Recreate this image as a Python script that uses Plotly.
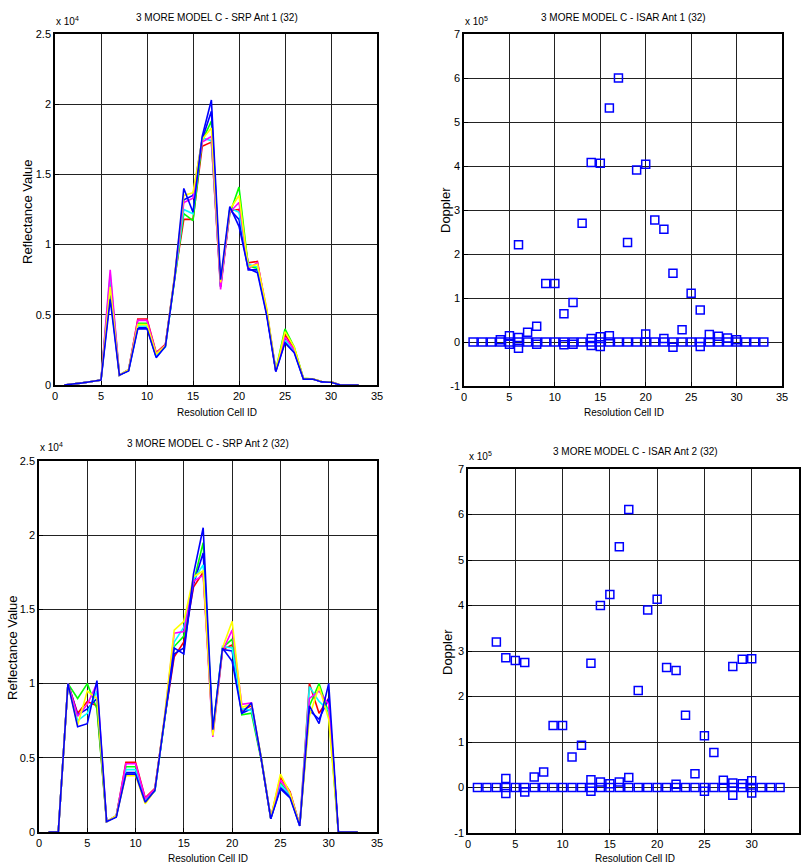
import plotly.graph_objects as go

W, H = 805, 865

cells = list(range(1, 34))

# SRP Ant 1 (raw reflectance values), several pulses
srp1_red = [0, 50, 150, 250, 350, 7600, 700, 1050, 4700, 4700, 2300, 2900, 7600, 11800, 11800, 17000, 17300, 7000, 12400, 12500, 8700, 8800, 5200, 1000, 3600, 2600, 450, 420, 230, 220, 0, 0, 0]
srp1_green = [0, 50, 150, 250, 350, 7200, 700, 1100, 4400, 4400, 2200, 2800, 7500, 12200, 11700, 17400, 18800, 7200, 12200, 14100, 8500, 8300, 5300, 1050, 4000, 2700, 480, 430, 240, 220, 0, 0, 0]
srp1_blue2 = [0, 50, 150, 250, 350, 6500, 700, 1050, 4100, 4100, 2000, 2800, 7700, 13200, 13500, 17500, 19500, 7000, 12500, 11800, 8200, 8200, 5100, 1000, 3100, 2400, 430, 420, 230, 210, 0, 0, 0]
srp1_cyan = [0, 50, 150, 250, 350, 7900, 700, 1050, 4200, 4200, 2100, 2700, 7600, 12500, 12200, 17600, 17400, 7100, 12600, 12300, 8600, 8400, 5300, 1000, 3200, 2400, 450, 420, 230, 210, 0, 0, 0]
srp1_magenta = [0, 50, 150, 250, 350, 8200, 700, 1100, 4600, 4600, 2250, 2850, 7700, 13000, 13300, 17300, 17700, 6800, 12300, 13000, 8300, 8700, 5400, 1000, 3400, 2500, 460, 430, 240, 220, 0, 0, 0]
srp1_yellow = [0, 50, 150, 250, 350, 7000, 700, 1100, 4300, 4300, 2200, 2800, 7800, 13500, 13700, 17500, 18300, 7300, 12500, 13500, 8400, 8600, 5500, 1050, 3800, 2700, 470, 440, 250, 230, 0, 0, 0]
srp1_blue = [0, 50, 150, 250, 350, 6100, 700, 1000, 4000, 4000, 1950, 2750, 7600, 14000, 12300, 17700, 20300, 7500, 12700, 11300, 8300, 8000, 5000, 950, 3000, 2300, 420, 420, 220, 200, 0, 0, 0]

# SRP Ant 2
srp2_red = [0, 0, 10000, 8000, 8800, 8500, 700, 1050, 4700, 4700, 2300, 2950, 7600, 11800, 12800, 16500, 17500, 6600, 12300, 12600, 8200, 8500, 5000, 950, 3700, 2700, 450, 10000, 8000, 9000, 0, 0, 0]
srp2_green = [0, 0, 10000, 9000, 10000, 8300, 700, 1100, 4400, 4400, 2200, 2850, 7500, 12500, 13200, 16800, 19500, 6800, 12400, 13000, 7900, 8000, 4900, 900, 3300, 2500, 430, 8500, 10000, 8000, 0, 0, 0]
srp2_blue2 = [0, 0, 10000, 7900, 8300, 9000, 700, 1050, 4000, 4000, 2000, 2800, 7600, 12000, 12400, 16700, 18800, 6700, 12300, 12200, 8000, 8300, 5000, 900, 3000, 2400, 420, 8200, 7600, 9000, 0, 0, 0]
srp2_cyan = [0, 0, 10000, 7500, 8000, 9500, 700, 1050, 4200, 4200, 2100, 2750, 7600, 12800, 13800, 17000, 18000, 6700, 12500, 12400, 8300, 8200, 5100, 950, 3200, 2500, 430, 9800, 8800, 8200, 0, 0, 0]
srp2_magenta = [0, 0, 10000, 7800, 8600, 10000, 700, 1100, 4600, 4600, 2250, 2900, 7700, 13400, 13500, 16900, 17300, 6400, 12200, 13600, 8600, 8700, 5000, 950, 3500, 2600, 440, 9000, 9500, 8600, 0, 0, 0]
srp2_yellow = [0, 0, 10000, 7200, 9500, 9000, 700, 1100, 3800, 3800, 1900, 2800, 7800, 13600, 14200, 17200, 17600, 6500, 12400, 14200, 8400, 8600, 5100, 950, 3900, 2600, 450, 7800, 9800, 7600, 0, 0, 0]
srp2_blue = [0, 0, 10000, 7100, 7300, 10200, 700, 1000, 3900, 3900, 2000, 2800, 7600, 12400, 12000, 17400, 20500, 6900, 12400, 11500, 8000, 8700, 5000, 900, 2900, 2300, 400, 8500, 7300, 10000, 0, 0, 0]

srp1_series = [(srp1_red, "#FF0000"), (srp1_green, "#00FF00"), (srp1_blue2, "#0000FF"),
               (srp1_cyan, "#00FFFF"), (srp1_magenta, "#FF00FF"), (srp1_yellow, "#FFFF00"),
               (srp1_blue, "#0000FF")]
srp2_series = [(srp2_red, "#FF0000"), (srp2_green, "#00FF00"), (srp2_blue2, "#0000FF"),
               (srp2_cyan, "#00FFFF"), (srp2_magenta, "#FF00FF"), (srp2_yellow, "#FFFF00"),
               (srp2_blue, "#0000FF")]

# ISAR Ant 1 (Doppler, raw values)
isar1_x = (cells +
           [4, 5, 5, 6, 6, 6, 7, 8, 8, 9, 10, 11, 11, 12, 12, 13, 14, 14, 14, 15, 15, 15, 16, 16, 17,
            18, 19, 20, 20, 21, 22, 22, 23, 23, 24, 25, 26, 26, 27, 28, 29, 30])
isar1_y = ([0] * 33 +
           [5000, 14000, -5000, 221000, 10000, -14000, 22000, 36000, -5000, 133000, 133000, 64000, -6000,
            90000, -5000, 270000, 408000, 8000, -8000, 406000, 12000, -10000, 532000, 14000, 600000,
            226000, 391000, 404000, 18000, 277000, 256000, 8000, 156000, -12000, 28000, 111000, 73000,
            -10000, 17000, 13000, 9000, 5000])

# ISAR Ant 2
isar2_x = (cells +
           [3, 4, 4, 4, 5, 6, 6, 7, 8, 9, 10, 11, 12, 13, 13, 13, 14, 14, 15, 15, 16, 16, 17, 17,
            18, 19, 20, 21, 22, 22, 23, 24, 25, 25, 26, 27, 28, 28, 28, 29, 29, 30, 30, 30])
isar2_y = ([0] * 33 +
           [320000, 285000, 20000, -13000, 279000, 275000, -10000, 23000, 34000, 136000, 136000, 67000,
            93000, 273000, 17000, -8000, 400000, 12000, 424000, 8000, 529000, 12000, 611000, 22000,
            213000, 390000, 414000, 264000, 257000, 7000, 159000, 30000, 114000, -8000, 77000, 16000,
            266000, 10000, -17000, 282000, 8000, 283000, 15000, -12000])

# Text
titles = ["3 MORE MODEL C - SRP Ant 1 (32)", "3 MORE MODEL C - ISAR Ant 1 (32)",
          "3 MORE MODEL C - SRP Ant 2 (32)", "3 MORE MODEL C - ISAR Ant 2 (32)"]
srp_ticks = [0, 5000, 10000, 15000, 20000, 25000]
srp_ticktext = ["0", "0.5", "1", "1.5", "2", "2.5"]
isar_ticks = [-100000, 0, 100000, 200000, 300000, 400000, 500000, 600000, 700000]
isar_ticktext = ["-1", "0", "1", "2", "3", "4", "5", "6", "7"]
x_ticks = [0, 5, 10, 15, 20, 25, 30, 35]

FONT = "Liberation Sans, Arial, sans-serif"

fig = go.Figure()

for vals, col in srp1_series:
    fig.add_trace(go.Scatter(x=cells, y=vals, mode="lines", line=dict(color=col, width=1.6),
                             xaxis="x", yaxis="y", showlegend=False))
fig.add_trace(go.Scatter(x=isar1_x, y=isar1_y, mode="markers",
                         marker=dict(symbol="square-open", size=8, color="#0000FF",
                                     line=dict(width=1.5, color="#0000FF")),
                         xaxis="x2", yaxis="y2", showlegend=False))
for vals, col in srp2_series:
    fig.add_trace(go.Scatter(x=cells, y=vals, mode="lines", line=dict(color=col, width=1.6),
                             xaxis="x3", yaxis="y3", showlegend=False))
fig.add_trace(go.Scatter(x=isar2_x, y=isar2_y, mode="markers",
                         marker=dict(symbol="square-open", size=8, color="#0000FF",
                                     line=dict(width=1.5, color="#0000FF")),
                         xaxis="x4", yaxis="y4", showlegend=False))

def px_x(p):
    return p / W

def px_y(p):
    return 1 - p / H

domains = {
    1: ([55, 377], [34, 385]),
    2: ([464, 782], [34, 386]),
    3: ([39, 377], [461, 832]),
    4: ([468, 799], [469, 833]),
}

axcommon = dict(showline=True, mirror=True, linecolor="black", linewidth=1.5,
                showgrid=True, gridcolor="#222222", gridwidth=1, zeroline=False,
                ticks="inside", ticklen=4, tickcolor="black", automargin=False,
                tickfont=dict(family=FONT, size=11, color="black"))

layout = dict(width=W, height=H, margin=dict(l=0, r=0, t=0, b=0, autoexpand=False),
              paper_bgcolor="white", plot_bgcolor="white", showlegend=False)

for i in range(1, 5):
    (x0, x1), (y0, y1) = domains[i]
    xa = "xaxis" if i == 1 else f"xaxis{i}"
    ya = "yaxis" if i == 1 else f"yaxis{i}"
    anchor_x = "y" if i == 1 else f"y{i}"
    anchor_y = "x" if i == 1 else f"x{i}"
    layout[xa] = dict(domain=[px_x(x0), px_x(x1)], range=[0, 35], tickvals=x_ticks,
                      anchor=anchor_x, **axcommon)
    if i in (1, 3):
        layout[ya] = dict(domain=[px_y(y1), px_y(y0)], range=[0, 25000], tickvals=srp_ticks,
                          ticktext=srp_ticktext, anchor=anchor_y, **axcommon)
    else:
        layout[ya] = dict(domain=[px_y(y1), px_y(y0)], range=[-100000, 700000], tickvals=isar_ticks,
                          ticktext=isar_ticktext, anchor=anchor_y, **axcommon)

fig.update_layout(**layout)

ann = []
def add_text(text, x, y, size, xanchor="center", yanchor="middle", angle=0):
    ann.append(dict(text=text, x=px_x(x), y=px_y(y), xref="paper", yref="paper",
                    showarrow=False, xanchor=xanchor, yanchor=yanchor, textangle=angle,
                    font=dict(family=FONT, size=size, color="black")))

# titles
add_text(titles[0], 217, 17, 10)
add_text(titles[1], 623, 17, 10)
add_text(titles[2], 208, 443, 10)
add_text(titles[3], 635, 451, 10)
# exponent labels
add_text("x 10<sup>4</sup>", 54, 21, 10, xanchor="left")
add_text("x 10<sup>5</sup>", 463, 21, 10, xanchor="left")
add_text("x 10<sup>4</sup>", 38, 447, 10, xanchor="left")
add_text("x 10<sup>5</sup>", 467, 456, 10, xanchor="left")
# y titles
add_text("Reflectance Value", 27, 211, 13, angle=-90)
add_text("Doppler", 445, 210, 13, angle=-90)
add_text("Reflectance Value", 12, 648, 13, angle=-90)
add_text("Doppler", 447, 652, 13, angle=-90)
# x titles
add_text("Resolution Cell ID", 217, 412, 10)
add_text("Resolution Cell ID", 624, 412, 10)
add_text("Resolution Cell ID", 208, 858, 10)
add_text("Resolution Cell ID", 635, 858, 10)

fig.update_layout(annotations=ann)

fig.write_html("out.html", config={"displayModeBar": False},
               post_script="document.body.style.margin='0';document.body.style.overflow='hidden';")
